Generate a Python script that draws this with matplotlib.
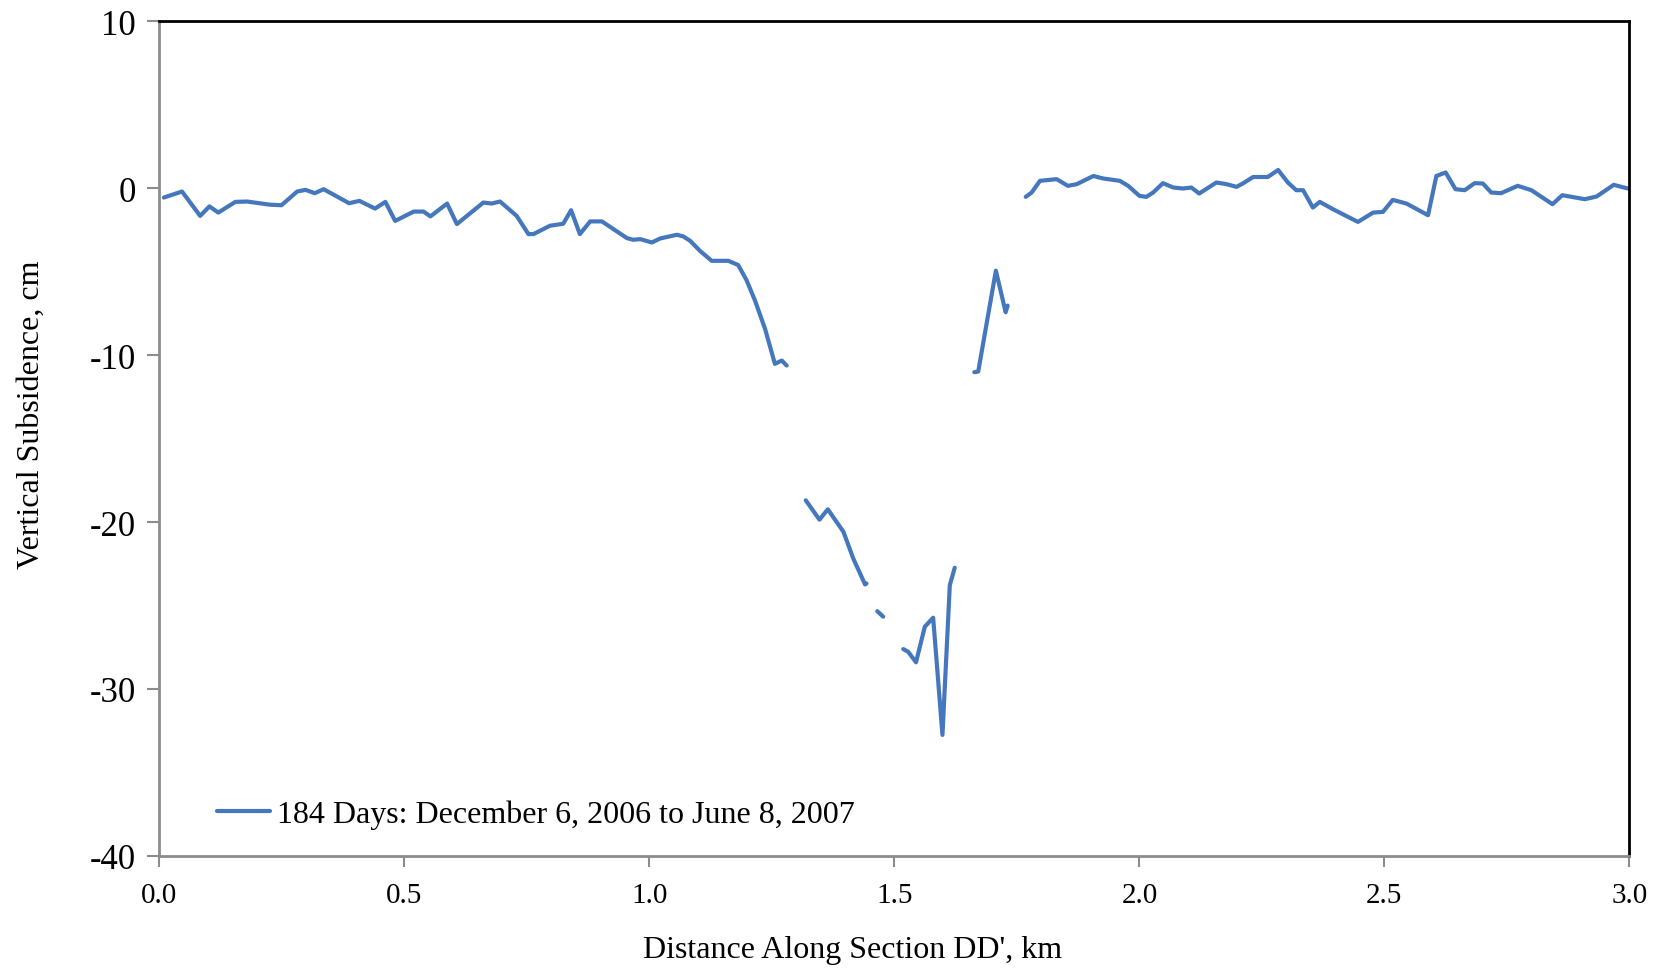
import numpy as np
import matplotlib
matplotlib.use("Agg")
import matplotlib.pyplot as plt

# distance along section (km) and vertical subsidence (cm); None = no data (gap)
dist_km = [
    0.009, 0.046, 0.083, 0.102, 0.120, 0.155, 0.179, 0.226, 0.249, 0.281,
    0.298, 0.317, 0.335, 0.387, 0.408, 0.440, 0.461, 0.481, 0.519, 0.539,
    0.553, 0.587, 0.607, 0.661, 0.678, 0.695, 0.729, 0.753, 0.763, 0.797,
    0.824, 0.840, 0.858, 0.879, 0.903, 0.954, 0.967, 0.981, 1.005, 1.022,
    1.056, 1.069, 1.083, 1.103, 1.127, 1.161, 1.181, 1.198, 1.215, 1.236,
    1.256, 1.270, 1.280,
    None,
    1.319, 1.347, 1.364, 1.396, 1.416, 1.440, 1.443,
    None,
    1.465, 1.477,
    None,
    1.518, 1.528, 1.544, 1.562, 1.579, 1.598, 1.613, 1.623,
    None,
    1.663, 1.671, 1.707, 1.727, 1.731,
    None,
    1.768, 1.780, 1.797, 1.831, 1.854, 1.872, 1.906, 1.926, 1.960, 1.977,
    2.000, 2.014, 2.028, 2.048, 2.069, 2.089, 2.106, 2.122, 2.157, 2.178,
    2.198, 2.211, 2.232, 2.262, 2.283, 2.303, 2.320, 2.334, 2.354, 2.368,
    2.395, 2.446, 2.477, 2.497, 2.517, 2.545, 2.589, 2.606, 2.625, 2.645,
    2.664, 2.684, 2.701, 2.718, 2.738, 2.772, 2.800, 2.843, 2.863, 2.909,
    2.933, 2.968, 2.997,
]
subsidence_cm = [
    -0.57, -0.21, -1.67, -1.10, -1.47, -0.83, -0.81, -1.00, -1.03, -0.21,
    -0.11, -0.31, -0.07, -0.91, -0.77, -1.23, -0.83, -1.97, -1.41, -1.41,
    -1.70, -0.93, -2.16, -0.87, -0.93, -0.81, -1.67, -2.76, -2.76, -2.26,
    -2.14, -1.33, -2.76, -2.00, -2.00, -3.00, -3.10, -3.06, -3.26, -3.02,
    -2.80, -2.90, -3.16, -3.76, -4.36, -4.36, -4.61, -5.51, -6.71, -8.44,
    -10.53, -10.33, -10.63,
    None,
    -18.70, -19.86, -19.24, -20.59, -22.19, -23.74, -23.68,
    None,
    -25.34, -25.67,
    None,
    -27.61, -27.77, -28.40, -26.27, -25.73, -32.75, -23.78, -22.74,
    None,
    -11.03, -10.99, -4.95, -7.44, -7.04,
    None,
    -0.53, -0.27, 0.43, 0.53, 0.13, 0.23, 0.72, 0.57, 0.43, 0.13,
    -0.47, -0.53, -0.27, 0.29, 0.03, -0.03, 0.03, -0.33, 0.33, 0.23,
    0.07, 0.27, 0.66, 0.66, 1.08, 0.33, -0.13, -0.13, -1.17, -0.83,
    -1.27, -2.03, -1.47, -1.43, -0.71, -0.93, -1.63, 0.72, 0.93, -0.07,
    -0.13, 0.29, 0.27, -0.27, -0.31, 0.13, -0.13, -0.97, -0.43, -0.67,
    -0.51, 0.19, -0.03,
]
series_label = "184 Days: December 6, 2006 to June 8, 2007"
x_ticks = [0.0, 0.5, 1.0, 1.5, 2.0, 2.5, 3.0]
y_ticks = [10, 0, -10, -20, -30, -40]

x = np.array([np.nan if v is None else v for v in dist_km], dtype=float)
y = np.array([np.nan if v is None else v for v in subsidence_cm], dtype=float)

plt.rcParams['font.family'] = ['Liberation Serif', 'DejaVu Serif']

fig = plt.figure(figsize=(16.63, 9.70), dpi=100)
ax = fig.add_axes([0.0959, 0.1165, 0.8839, 0.8608])

ax.plot(x, y, color='#4577bd', lw=3.0, solid_capstyle='round',
        solid_joinstyle='round', label=series_label)

ax.set_xlim(0, 3.0)
ax.set_ylim(-40, 10)
ax.set_xticks(x_ticks)
ax.set_xticklabels(['%.1f' % t for t in x_ticks])
ax.set_yticks(y_ticks)
ax.set_yticklabels([str(t) for t in y_ticks])

for s in ['left', 'bottom']:
    ax.spines[s].set_color('#8c8c8c')
    ax.spines[s].set_linewidth(2.0)
for s in ['top', 'right']:
    ax.spines[s].set_color('black')
    ax.spines[s].set_linewidth(2.0)

ax.tick_params(axis='y', direction='out', length=9, width=1.5, color='#8c8c8c',
               labelsize=25, pad=8)
ax.tick_params(axis='x', direction='out', length=8, width=1.5, color='#8c8c8c',
               labelsize=21, pad=11)

ax.set_xlabel("Distance Along Section DD', km", fontsize=23)
ax.set_ylabel("Vertical Subsidence, cm", fontsize=23)
# the labels are not centred on the axes in the original
ax.xaxis.set_label_coords(0.4715, -0.095)
ax.yaxis.set_label_coords(-0.077, 0.53)

ax.legend(loc='center left', bbox_to_anchor=(0.039, 0.05), frameon=False,
          fontsize=23, handlelength=1.66, handletextpad=0.23,
          borderpad=0, borderaxespad=0)

fig.savefig('out.png', dpi=100)
